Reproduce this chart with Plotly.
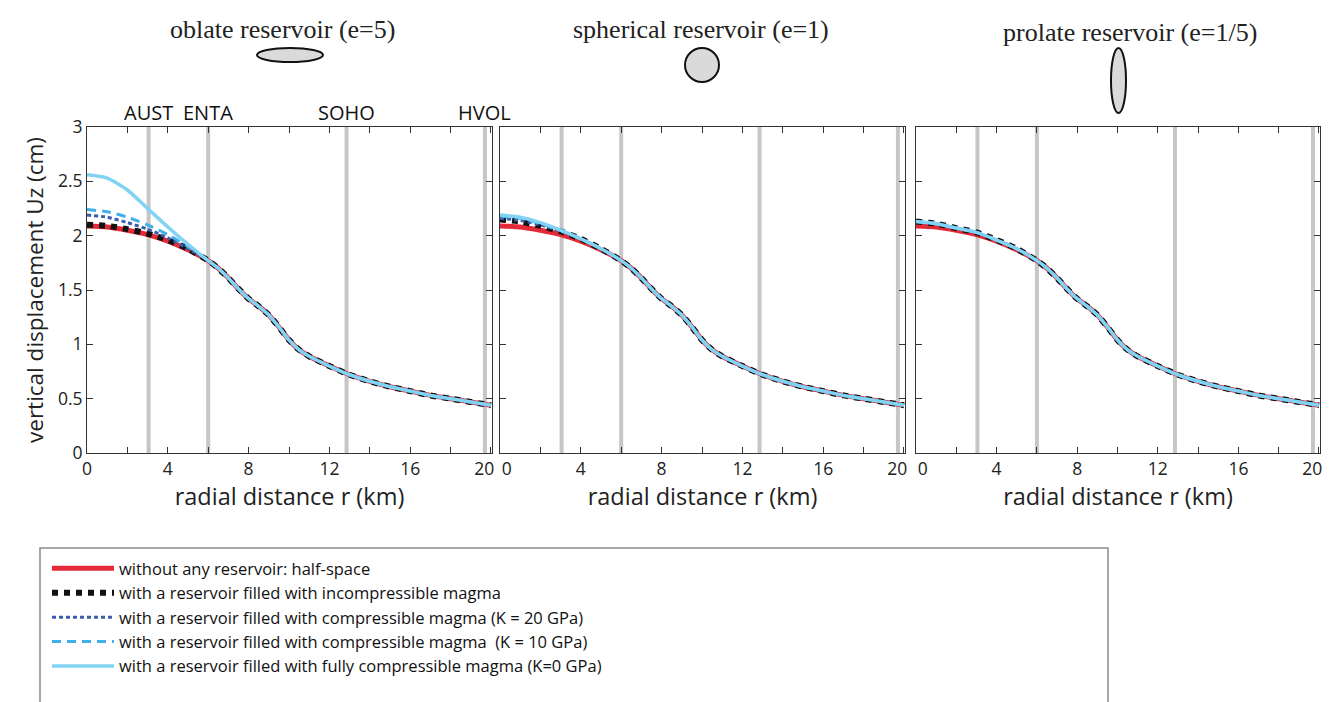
import plotly.graph_objects as go

W, H = 1333, 702

# radial distance (km) and vertical displacement Uz (cm)
r_km = [0, 1, 2, 3, 4, 5, 6, 6.5, 7, 7.5, 8, 8.5, 9, 9.5, 10, 10.5, 11,
        12, 13, 14, 15, 16, 17, 18, 19, 20]
# beyond ~6 km every model gives the same curve
uz_tail = [1.77, 1.70, 1.61, 1.51, 1.42, 1.35, 1.27, 1.16, 1.04, 0.95, 0.89,
           0.80, 0.72, 0.66, 0.61, 0.57, 0.53, 0.50, 0.47, 0.44]

# values for r = 0..5 km
half_space_head = [2.09, 2.08, 2.05, 2.01, 1.95, 1.87]

oblate_incomp = [2.10, 2.09, 2.06, 2.02, 1.96, 1.88]
oblate_k20 = [2.19, 2.17, 2.12, 2.06, 1.98, 1.88]
oblate_k10 = [2.24, 2.22, 2.17, 2.10, 2.01, 1.90]
oblate_k0 = [2.56, 2.53, 2.42, 2.25, 2.08, 1.92]

spherical_incomp = [2.15, 2.13, 2.09, 2.04, 1.97, 1.88]
spherical_k20 = [2.16, 2.14, 2.10, 2.04, 1.97, 1.88]
spherical_k10 = [2.18, 2.16, 2.11, 2.05, 1.97, 1.88]
spherical_k0 = [2.19, 2.17, 2.12, 2.05, 1.97, 1.88]

prolate_incomp = [2.13, 2.11, 2.07, 2.03, 1.96, 1.88]
prolate_k20 = [2.13, 2.11, 2.07, 2.03, 1.96, 1.88]
prolate_k10 = [2.13, 2.11, 2.07, 2.03, 1.96, 1.88]
prolate_k0 = [2.13, 2.11, 2.07, 2.03, 1.96, 1.88]

stations = ["AUST", "ENTA", "SOHO", "HVOL"]
station_r = [3.05, 6.0, 12.85, 19.7]

x_tickvals = [0, 4, 8, 12, 16, 20]
x_ticktext = ["0", "4", "8", "12", "16", "20"]

panel_titles = ["oblate reservoir (e=5)", "spherical reservoir (e=1)",
                "prolate reservoir (e=1/5)"]
series_names = [
    "without any reservoir: half-space",
    "with a reservoir filled with incompressible magma",
    "with a reservoir filled with compressible magma (K = 20 GPa)",
    "with a reservoir filled with compressible magma  (K = 10 GPa)",
    "with a reservoir filled with fully compressible magma (K=0 GPa)",
]
panels = [
    [half_space_head, oblate_incomp, oblate_k20, oblate_k10, oblate_k0],
    [half_space_head, spherical_incomp, spherical_k20, spherical_k10, spherical_k0],
    [half_space_head, prolate_incomp, prolate_k20, prolate_k10, prolate_k0],
]

line_styles = [
    dict(color="#e42a38", width=5),
    dict(color="#111111", width=6, dash="dot"),
    dict(color="#3a5eab", width=3, dash="4px,3px"),
    dict(color="#3fb0e6", width=3, dash="9px,6px"),
    dict(color="#80d3f3", width=3.5),
]

SANS = "'Open Sans', Lato, sans-serif"
SERIF = "'Liberation Serif', 'Times New Roman', serif"
NBSP = "\u00a0"


def px(x):
    return x / W


def py(y):
    return 1 - y / H


x_domains = [(87, 492), (500, 905), (916, 1320)]
y_domain = [py(453), py(127)]

fig = go.Figure()

for i, heads in enumerate(panels):
    xa = "x" if i == 0 else f"x{i + 1}"
    ya = "y" if i == 0 else f"y{i + 1}"
    for j, head in enumerate(heads):
        fig.add_trace(go.Scatter(
            x=r_km, y=head + uz_tail, name=series_names[j],
            mode="lines", line=dict(shape="spline", smoothing=0.6, **line_styles[j]),
            xaxis=xa, yaxis=ya, legendgroup=str(j), showlegend=(i == 0),
        ))

axis_common = dict(showline=True, linecolor="#333333", linewidth=1, mirror="ticks",
                   ticks="inside", ticklen=6, tickcolor="#333333",
                   showgrid=False, zeroline=False, automargin=False,
                   tickfont=dict(family=SANS, size=17.5, color="#222222"))

layout_axes = {}
for i, (x0, x1) in enumerate(x_domains):
    suffix = "" if i == 0 else str(i + 1)
    # nudge end labels apart so neighbouring panels' "20" and "0" don't collide
    labels = list(x_ticktext)
    labels[-1] = labels[-1] + NBSP * 3
    if i > 0:
        labels[0] = NBSP * 3 + labels[0]
    layout_axes[f"xaxis{suffix}"] = dict(
        axis_common, domain=[px(x0), px(x1)], range=[0, 20.05],
        tickmode="array", tickvals=x_tickvals, ticktext=labels,
        ticklabeloverflow="allow",
        anchor=f"y{suffix}",
        minor=dict(dtick=2, ticks="inside", ticklen=6, tickcolor="#333333"),
        title=dict(text="radial distance r (km)", standoff=4,
                   font=dict(family=SANS, size=23.5, color="#222222")),
    )
    layout_axes[f"yaxis{suffix}"] = dict(
        axis_common, domain=y_domain, range=[0, 3], dtick=0.5,
        anchor=f"x{suffix}", showticklabels=(i == 0),
        title=dict(text="vertical displacement Uz (cm)" if i == 0 else "",
                   standoff=8, font=dict(family=SANS, size=22.5, color="#222222")),
    )

shapes = []
# station markers
for i in range(3):
    suffix = "" if i == 0 else str(i + 1)
    for sr in station_r:
        shapes.append(dict(type="line", xref=f"x{suffix}", yref="paper",
                           x0=sr, x1=sr, y0=y_domain[0], y1=y_domain[1],
                           line=dict(color="#c6c6c6", width=4), layer="below"))

# reservoir sketches
for (x0, y0, x1, y1) in [(257, 48, 323, 62), (685, 48, 719, 82), (1111, 48, 1126, 113)]:
    shapes.append(dict(type="circle", xref="paper", yref="paper",
                       x0=px(x0), x1=px(x1), y0=py(y1), y1=py(y0),
                       fillcolor="#dadada", line=dict(color="#111111", width=2)))

# legend frame
shapes.append(dict(type="rect", xref="paper", yref="paper",
                   x0=px(40), x1=px(1108), y0=-0.02, y1=py(548),
                   line=dict(color="#8a8a8a", width=1.5)))

annotations = []
for t, cx, cy in zip(panel_titles, [282, 701, 1130], [30, 30, 32]):
    annotations.append(dict(text=t, x=px(cx), y=py(cy), xref="paper", yref="paper",
                            xanchor="center", yanchor="middle", showarrow=False,
                            font=dict(family=SERIF, size=26, color="#222222")))
for name, sr in zip(stations, station_r):
    annotations.append(dict(text=name, x=sr, y=py(112), xref="x", yref="paper",
                            xanchor="center", yanchor="middle", showarrow=False,
                            font=dict(family=SANS, size=20, color="#111111")))

fig.update_layout(
    width=W, height=H,
    margin=dict(l=0, r=0, t=0, b=0, pad=0, autoexpand=False),
    paper_bgcolor="white", plot_bgcolor="white",
    showlegend=True,
    legend=dict(x=px(47), y=py(551), xanchor="left", yanchor="top",
                bgcolor="rgba(0,0,0,0)", borderwidth=0, tracegroupgap=0,
                itemwidth=62,
                font=dict(family=SANS, size=16.5, color="#111111")),
    shapes=shapes, annotations=annotations,
    **layout_axes,
)

fig.write_html("out.html", config={"displayModeBar": False},
               post_script="document.body.style.margin = '0';")
